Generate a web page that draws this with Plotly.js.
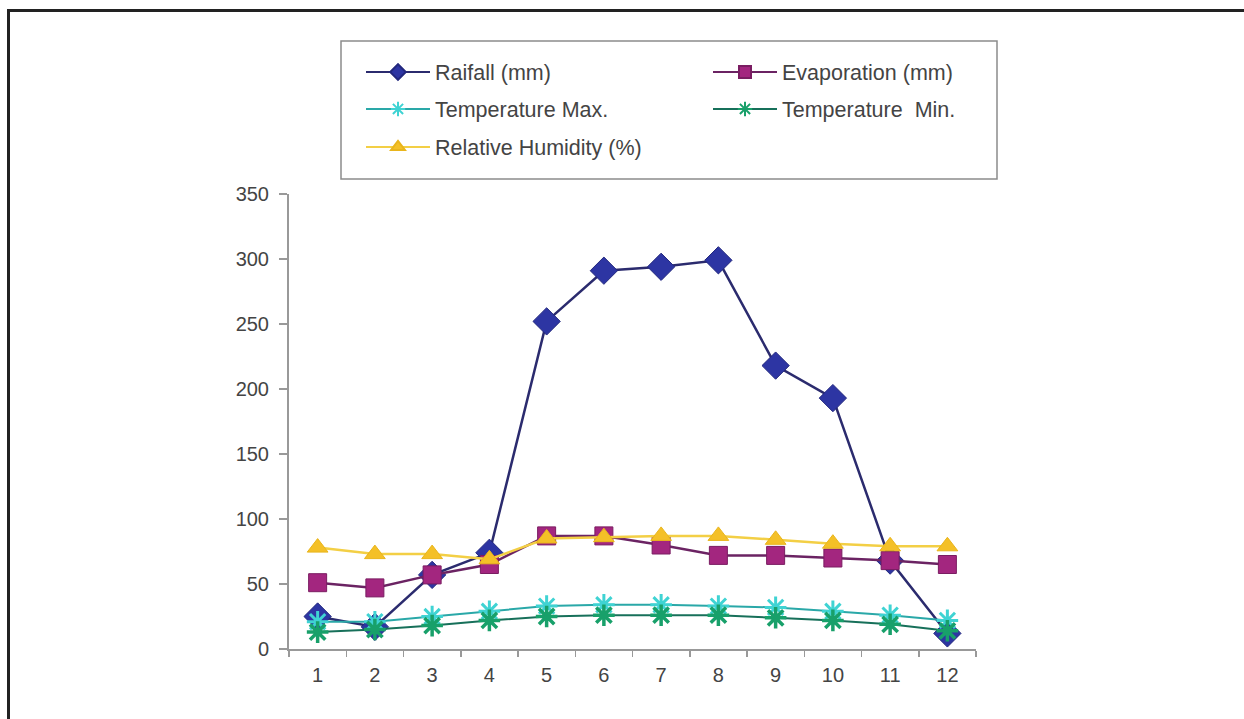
<!DOCTYPE html>
<html>
<head>
<meta charset="utf-8">
<script src="https://cdn.plot.ly/plotly-3.0.1.min.js"></script>
<style>
  html, body { margin: 0; padding: 0; background: #fff; }
  #wrap { position: relative; width: 1244px; height: 719px; overflow: hidden; }
  #chart { width: 1244px; height: 719px; }
  #frame { position: absolute; left: 7px; top: 9px; width: 1300px; height: 800px;
           border-left: 3px solid #222; border-top: 3px solid #222; pointer-events: none; }
</style>
</head>
<body>
<div id="wrap">
  <div id="chart"></div>
  <div id="frame"></div>
</div>
<script>
const months = ['1','2','3','4','5','6','7','8','9','10','11','12'];
const rainfall    = [25, 17, 57, 74, 252, 291, 294, 299, 218, 193, 68, 12];
const evaporation = [51, 47, 57, 65, 87, 87, 80, 72, 72, 70, 68, 65];
const tempMax     = [21, 21, 25, 29, 33, 34, 34, 33, 32, 29, 26, 22];
const tempMin     = [13, 15, 18, 22, 25, 26, 26, 26, 24, 22, 19, 14];
const humidity    = [78, 73, 73, 69, 85, 86, 87, 87, 84, 81, 79, 79];
const seriesNames = ['Raifall (mm)', 'Evaporation (mm)', 'Temperature Max.', 'Temperature  Min.', 'Relative Humidity (%)'];

const FONT = 'Liberation Sans, Arial, sans-serif';

const traces = [
  {x: months, y: rainfall, name: seriesNames[0], legend: 'legend', mode: 'lines+markers',
   line: {color: '#2b2b6e', width: 2.5},
   marker: {symbol: 'diamond', size: 21, color: '#2d35a3', line: {color: '#23287e', width: 1}}},
  {x: months, y: evaporation, name: seriesNames[1], legend: 'legend2', mode: 'lines+markers',
   line: {color: '#6b2363', width: 2.5},
   marker: {symbol: 'square', size: 18, color: '#a3267f', line: {color: '#7a1d62', width: 1}}},
  {x: months, y: tempMax, name: seriesNames[2], legend: 'legend3', mode: 'lines+markers',
   line: {color: '#2aa8a8', width: 2},
   marker: {symbol: 'asterisk-open', size: 18, color: '#3fd3d3', line: {color: '#3fd3d3', width: 3}}},
  {x: months, y: tempMin, name: seriesNames[3], legend: 'legend4', mode: 'lines+markers',
   line: {color: '#17705a', width: 2},
   marker: {symbol: 'asterisk-open', size: 18, color: '#18a06a', line: {color: '#18a06a', width: 3.5}}},
  {x: months, y: humidity, name: seriesNames[4], legend: 'legend5', mode: 'lines+markers',
   line: {color: '#f3cf45', width: 2.5},
   marker: {symbol: 'triangle-up', size: 18, color: '#f4c027', line: {color: '#e9b51c', width: 1}}}
];

// plot area: x 289..976, y 194..649
const L = 289, R = 976, T = 194, B = 649;
const W = R - L, H = B - T;
const px = v => (v - L) / W;
const py = v => (B - v) / H;

function leg(x, y) {
  return {x: px(x), y: py(y), xanchor: 'left', yanchor: 'middle', orientation: 'v',
          bgcolor: 'rgba(0,0,0,0)', borderwidth: 0, itemwidth: 64, itemsizing: 'constant',
          font: {family: FONT, size: 21.5, color: '#444'}};
}

const layout = {
  width: 1244, height: 719,
  margin: {l: L, r: 1244 - R, t: T, b: 719 - B, pad: 0},
  paper_bgcolor: '#ffffff', plot_bgcolor: '#ffffff',
  font: {family: FONT, size: 20, color: '#444'},
  showlegend: true,
  legend: leg(361, 72),
  legend2: leg(708, 72),
  legend3: leg(361, 109),
  legend4: leg(708, 109),
  legend5: leg(361, 147),
  xaxis: {
    type: 'category', range: [-0.5, 11.5], tickson: 'boundaries',
    showgrid: false, zeroline: false, showline: true, linecolor: '#999', linewidth: 2,
    ticks: 'outside', ticklen: 6, tickcolor: '#999', tickwidth: 1.5, ticklabelstandoff: 7,
    tickfont: {family: FONT, size: 20, color: '#444'}, fixedrange: true
  },
  yaxis: {
    range: [0, 350], dtick: 50, tick0: 0,
    showgrid: false, zeroline: false, showline: true, linecolor: '#999', linewidth: 2,
    ticks: 'outside', ticklen: 8, tickcolor: '#999', tickwidth: 1.5, ticklabelstandoff: 6,
    tickfont: {family: FONT, size: 20, color: '#444'}, fixedrange: true
  },
  shapes: [{
    type: 'rect', xref: 'paper', yref: 'paper',
    x0: px(341), x1: px(997), y0: py(179), y1: py(41),
    line: {color: '#8c8c8c', width: 1.5}, fillcolor: 'rgba(0,0,0,0)', layer: 'above'
  }]
};

Plotly.newPlot('chart', traces, layout, {displayModeBar: false, staticPlot: true}).then(function () {
  document.querySelectorAll('#chart .legendlines path').forEach(function (p) {
    p.style.strokeWidth = '2px';
  });
});
</script>
</body>
</html>
